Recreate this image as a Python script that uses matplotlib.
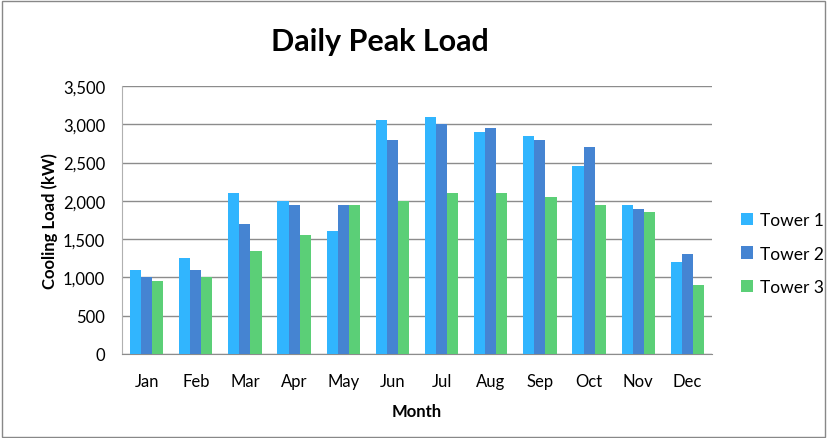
import matplotlib
matplotlib.use("Agg")
from matplotlib import pyplot as plt
from matplotlib.patches import Rectangle
import numpy as np

months = ["Jan", "Feb", "Mar", "Apr", "May", "Jun", "Jul", "Aug", "Sep", "Oct", "Nov", "Dec"]
tower1 = [1100, 1250, 2100, 2000, 1600, 3050, 3100, 2900, 2850, 2450, 1950, 1200]
tower2 = [1000, 1100, 1700, 1950, 1950, 2800, 3000, 2950, 2800, 2700, 1900, 1300]
tower3 = [950, 1000, 1350, 1550, 1950, 2000, 2100, 2100, 2050, 1950, 1850, 900]
series = ["Tower 1", "Tower 2", "Tower 3"]
colors = ["#31B5FE", "#4584D2", "#5BCF77"]

plt.rcParams["font.family"] = ["Lato", "DejaVu Sans"]

fig = plt.figure(figsize=(8.27, 4.39), dpi=100)
ax = fig.add_axes([122/827, 84/439, 590/827, 268/439])

x = np.arange(len(months))
w = 0.225
for i, (vals, name) in enumerate(zip([tower1, tower2, tower3], series)):
    ax.bar(x + (i - 1) * w, vals, width=w, color=colors[i], label=name, zorder=3)

ax.set_xlim(-0.5, len(months) - 0.5)
ax.set_ylim(0, 3500)
ax.set_yticks(range(0, 3501, 500))
ax.set_yticklabels([f"{v:,}" for v in range(0, 3501, 500)], fontsize=12)
ax.set_xticks(x)
ax.set_xticklabels(months, fontsize=12)
ax.tick_params(axis="y", length=0, pad=12)
ax.tick_params(axis="x", length=0, pad=14)
ax.yaxis.grid(True, color="#8c8c8c", linewidth=1.0, zorder=0)
for s in ["top", "right"]:
    ax.spines[s].set_visible(False)
ax.spines["left"].set_color("#b0b0b0")
ax.spines["bottom"].set_color("#8c8c8c")

ax.set_xlabel("Month", fontsize=12, fontweight="bold", labelpad=10)
ax.set_ylabel("Cooling Load (kW)", fontsize=12, fontweight="bold", labelpad=4)

fig.text(380/827, 1 - 42/439, "Daily Peak Load", fontsize=22, fontweight="bold",
         ha="center", va="center")

ax.legend(loc="center left", bbox_to_anchor=(1.022, 0.375), frameon=False,
          fontsize=12.5, handlelength=0.7, handleheight=0.7, labelspacing=1.0,
          handletextpad=0.4)

fig.patches.append(Rectangle((0.002, 0.002), 0.996, 0.994, transform=fig.transFigure,
                             fill=False, edgecolor="#888888", linewidth=1))

fig.savefig("out.png", dpi=100)
